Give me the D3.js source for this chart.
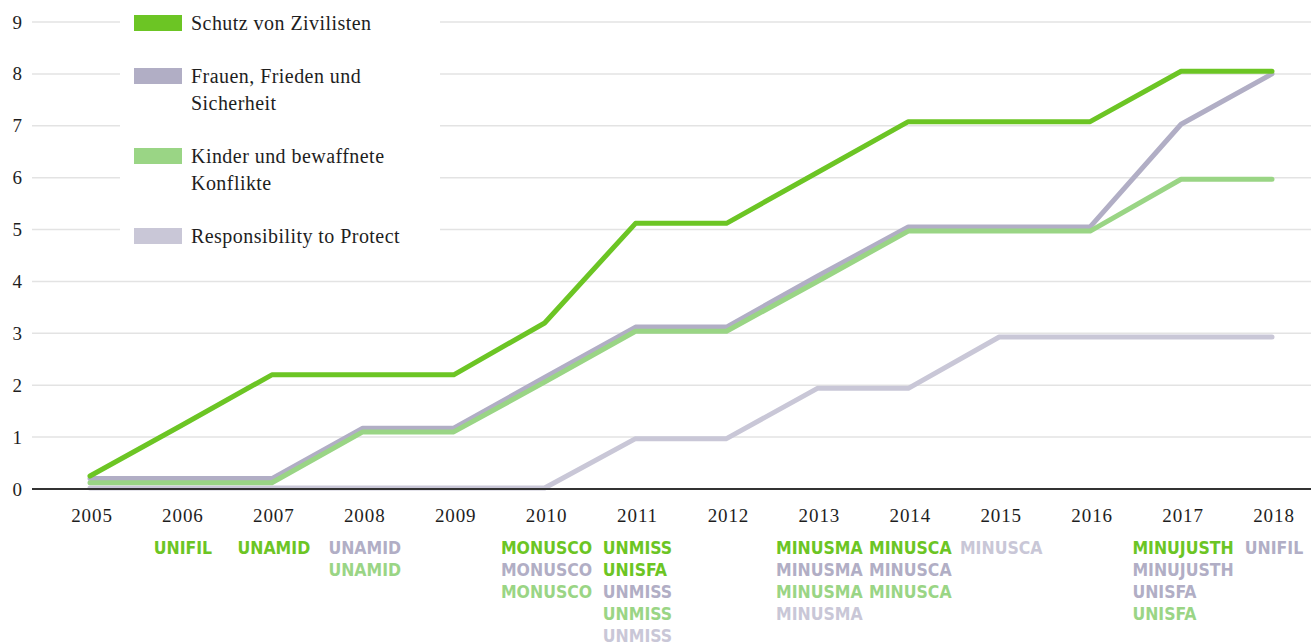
<!DOCTYPE html>
<html>
<head>
<meta charset="utf-8">
<script src="https://cdn.jsdelivr.net/npm/d3@7"></script>
<style>
  body { margin: 0; background: #fff; }
  svg { display: block; }
  .tick-label { font-family: "Liberation Serif", "DejaVu Serif", serif; font-size: 19px; letter-spacing: 0.9px; fill: #1e1e1e; }
  .legend-label { font-family: "Liberation Serif", "DejaVu Serif", serif; font-size: 20px; letter-spacing: 0.45px; fill: #1e1e1e; }
  .mission { font-family: "Liberation Sans Narrow", "DejaVu Sans Condensed", sans-serif; font-weight: bold; font-size: 17.5px; }
</style>
</head>
<body>
<svg id="chart"></svg>
<script>
// data
var years = [2005, 2006, 2007, 2008, 2009, 2010, 2011, 2012, 2013, 2014, 2015, 2016, 2017, 2018];
var yTicks = [0, 1, 2, 3, 4, 5, 6, 7, 8, 9];

// values as drawn (lines are slightly offset so they don't hide each other)
var schutz   = [0.25, 1.22, 2.2, 2.2, 2.2, 3.2, 5.12, 5.12, 6.1, 7.08, 7.08, 7.08, 8.05, 8.05];
var frauen   = [0.2, 0.2, 0.2, 1.17, 1.17, 2.15, 3.12, 3.12, 4.1, 5.05, 5.05, 5.05, 7.03, 8.0];
var kinder   = [0.12, 0.12, 0.12, 1.1, 1.1, 2.06, 3.04, 3.04, 4.0, 4.97, 4.97, 4.97, 5.97, 5.97];
var r2p      = [0.02, 0.02, 0.02, 0.02, 0.02, 0.02, 0.97, 0.97, 1.94, 1.94, 2.93, 2.93, 2.93, 2.93];

var seriesKeys = ["schutz", "frauen", "kinder", "r2p"];
var legendLines = [["Schutz von Zivilisten"], ["Frauen, Frieden und", "Sicherheit"], ["Kinder und bewaffnete", "Konflikte"], ["Responsibility to Protect"]];

// missions added per year, with the series they belong to
var missionYears = [2006, 2007, 2008, 2008, 2010, 2010, 2010, 2011, 2011, 2011, 2011, 2011,
                    2013, 2013, 2013, 2013, 2014, 2014, 2014, 2015, 2017, 2017, 2017, 2017, 2018];
var missionNames = ["UNIFIL", "UNAMID", "UNAMID", "UNAMID", "MONUSCO", "MONUSCO", "MONUSCO",
                    "UNMISS", "UNISFA", "UNMISS", "UNMISS", "UNMISS",
                    "MINUSMA", "MINUSMA", "MINUSMA", "MINUSMA", "MINUSCA", "MINUSCA", "MINUSCA", "MINUSCA",
                    "MINUJUSTH", "MINUJUSTH", "UNISFA", "UNISFA", "UNIFIL"];
var missionSeries = ["schutz", "schutz", "frauen", "kinder", "schutz", "frauen", "kinder",
                     "schutz", "schutz", "frauen", "kinder", "r2p",
                     "schutz", "frauen", "kinder", "r2p", "schutz", "frauen", "kinder", "r2p",
                     "schutz", "frauen", "frauen", "kinder", "frauen"];

var colors = { schutz: "#6cc524", frauen: "#b1aec5", kinder: "#9ad585", r2p: "#c9c7d7" };
var values = { schutz: schutz, frauen: frauen, kinder: kinder, r2p: r2p };

var W = 1311, H = 644;
var svg = d3.select('#chart').attr('width', W).attr('height', H);

var x = d3.scalePoint().domain(years).range([90, 1272]);
var y = d3.scaleLinear().domain([0, 9]).range([489, 22]);

// gridlines
svg.append('g')
    .selectAll('line')
    .data(yTicks.filter(function(d){ return d > 0; }))
    .join('line')
    .attr('x1', 32).attr('x2', W)
    .attr('y1', function(d){ return y(d); })
    .attr('y2', function(d){ return y(d); })
    .attr('stroke', '#e3e3e3')
    .attr('stroke-width', 1.5);

// y tick labels
svg.append('g')
    .selectAll('text')
    .data(yTicks)
    .join('text')
    .attr('class', 'tick-label')
    .attr('x', 23)
    .attr('y', function(d){ return y(d) + 6.5; })
    .attr('text-anchor', 'end')
    .text(function(d){ return d; });

// legend background hides gridlines
svg.append('rect')
    .attr('x', 120).attr('y', 0)
    .attr('width', 320).attr('height', 250)
    .attr('fill', '#fff');

// lines
var line = d3.line()
    .x(function(d, i){ return x(years[i]); })
    .y(function(d){ return y(d); });

["r2p", "frauen", "kinder", "schutz"].forEach(function(k){
    svg.append('path')
        .datum(values[k])
        .attr('fill', 'none')
        .attr('stroke', colors[k])
        .attr('stroke-width', 5)
        .attr('stroke-linejoin', 'round')
        .attr('stroke-linecap', 'round')
        .attr('d', line);
});

// zero line
svg.append('line')
    .attr('x1', 32).attr('x2', W)
    .attr('y1', y(0)).attr('y2', y(0))
    .attr('stroke', '#333')
    .attr('stroke-width', 2);

// x axis labels
svg.append('g')
    .selectAll('text')
    .data(years)
    .join('text')
    .attr('class', 'tick-label')
    .attr('x', function(d){ return x(d) + 2; })
    .attr('y', 522)
    .attr('text-anchor', 'middle')
    .text(function(d){ return d; });

// mission labels, stacked per year, left aligned in a column centred on the year
var rowCount = {};
var missions = missionNames.map(function(n, i){
    var yr = missionYears[i];
    rowCount[yr] = (rowCount[yr] || 0);
    var row = rowCount[yr]++;
    return { name: n, year: yr, series: missionSeries[i], row: row };
});

var mLabels = svg.append('g')
    .selectAll('text')
    .data(missions)
    .join('text')
    .attr('class', 'mission')
    .attr('y', function(d){ return 554 + d.row * 22; })
    .attr('fill', function(d){ return colors[d.series]; })
    .text(function(d){ return d.name; });

var colWidth = {};
mLabels.each(function(d){
    var w = this.getComputedTextLength();
    colWidth[d.year] = Math.max(colWidth[d.year] || 0, w);
});
mLabels.attr('x', function(d){ return x(d.year) + 2 - colWidth[d.year] / 2; });

// legend
var legendY = [15, 68, 148, 228];
var lg = svg.append('g');
seriesKeys.forEach(function(k, i){
    lg.append('rect')
        .attr('x', 134).attr('y', legendY[i])
        .attr('width', 48).attr('height', 16)
        .attr('fill', colors[k]);
    legendLines[i].forEach(function(t, j){
        lg.append('text')
            .attr('class', 'legend-label')
            .attr('x', 191)
            .attr('y', legendY[i] + 15 + j * 27)
            .text(t);
    });
});
</script>
</body>
</html>
